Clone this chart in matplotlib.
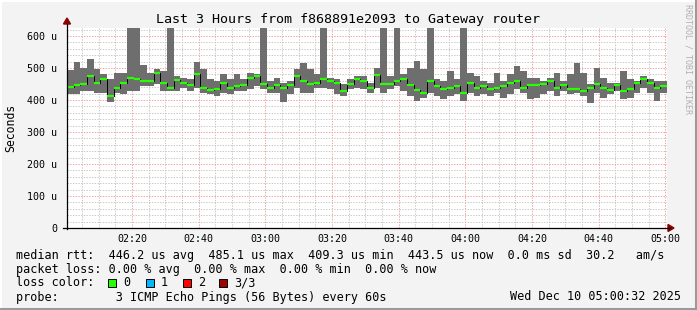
import numpy as np
import matplotlib
matplotlib.use("Agg")
import matplotlib.pyplot as plt
from matplotlib.lines import Line2D
from matplotlib.patches import Polygon, Rectangle


W, H = 697, 310

# time axis in minutes after midnight, graph ends Wed Dec 10 05:00:32
START_MIN = 120 + 32 / 60
STEP_MIN = 2

# rtt in microseconds, one value per 2 minutes (spikes above 625 are clipped)
rtt_min = [420, 418, 428, 428, 423, 423, 394, 423, 418, 428,
           428, 444, 444, 449, 428, 428, 428, 439, 428, 439,
           423, 418, 413, 423, 418, 428, 428, 433, 444, 433,
           423, 423, 394, 418, 439, 423, 423, 439, 439, 433,
           418, 413, 433, 439, 433, 423, 439, 423, 433, 444,
           428, 413, 397, 407, 423, 413, 402, 413, 418, 397,
           423, 413, 418, 413, 423, 407, 418, 433, 423, 402,
           407, 418, 428, 413, 428, 418, 423, 413, 392, 423,
           407, 418, 428, 402, 407, 423, 439, 423, 397, 423]
rtt_median = [440, 446, 449, 475, 452, 467, 413, 439, 454, 470,
              465, 459, 459, 485, 452, 439, 463, 452, 446, 480,
              439, 431, 435, 454, 439, 444, 446, 470, 475, 449,
              439, 446, 439, 446, 475, 459, 449, 454, 465, 459,
              454, 428, 449, 465, 459, 439, 477, 449, 449, 459,
              465, 446, 431, 423, 459, 444, 433, 439, 444, 423,
              454, 439, 444, 433, 439, 444, 452, 459, 439, 446,
              446, 449, 459, 439, 446, 433, 433, 428, 439, 449,
              439, 431, 446, 428, 433, 452, 465, 454, 439, 444]
rtt_max = [495, 519, 501, 527, 496, 480, 465, 485, 485, 700,
           700, 508, 485, 498, 491, 700, 475, 470, 465, 519,
           498, 465, 459, 480, 465, 480, 465, 485, 480, 700,
           459, 470, 454, 459, 496, 515, 496, 480, 700, 470,
           465, 449, 465, 475, 475, 454, 501, 700, 475, 700,
           480, 501, 522, 496, 700, 465, 459, 491, 465, 700,
           485, 475, 459, 454, 485, 459, 480, 506, 491, 470,
           470, 459, 470, 485, 459, 480, 517, 485, 449, 501,
           470, 454, 454, 491, 465, 459, 475, 465, 459, 459]

y_ticks = [0, 100, 200, 300, 400, 500, 600]
y_tick_labels = ["0", "100 u", "200 u", "300 u", "400 u", "500 u", "600 u"]
x_ticks = [140, 160, 180, 200, 220, 240, 260, 280, 300]
x_tick_labels = ["02:20", "02:40", "03:00", "03:20", "03:40",
                 "04:00", "04:20", "04:40", "05:00"]

loss_labels = ["0", "1", "2", "3/3"]
loss_colors = ["#26ff00", "#00b8ff", "#ff0000", "#a00000"]

title = "Last 3 Hours from f868891e2093 to Gateway router"
stats_rtt = ("median rtt:  446.2 us avg  485.1 us max  409.3 us min  "
             "443.5 us now  0.0 ms sd  30.2   am/s")
stats_loss = "packet loss: 0.00 % avg  0.00 % max  0.00 % min  0.00 % now"
probe_text = "probe:        3 ICMP Echo Pings (56 Bytes) every 60s"
stamp = "Wed Dec 10 05:00:32 2025"

MONO = "DejaVu Sans Mono"


def fx(x):
    return x / W


def fy(y):
    return 1 - y / H


fig = plt.figure(figsize=(W / 100, H / 100), dpi=100)
fig.patch.set_facecolor("#f3f3f3")

ax = fig.add_axes([fx(67), fy(228), 600 / W, 200 / H])
ax.set_facecolor("white")
ax.set_xlim(START_MIN, START_MIN + 180)
ax.set_ylim(0, 625)

# grid
ax.set_xticks(np.arange(125, 301, 5), minor=True)
ax.set_yticks(np.arange(20, 625, 20), minor=True)
ax.set_xticks(x_ticks)
ax.set_xticklabels(x_tick_labels)
ax.set_yticks(y_ticks)
ax.set_yticklabels(y_tick_labels)
ax.set_axisbelow(True)
ax.grid(which="minor", color="#c8c8c8", lw=0.7, linestyle=(0, (1.4, 1.4)))
ax.grid(which="major", color="#f4a0a0", lw=0.7, linestyle=(0, (1.4, 1.4)))

ax.tick_params(which="both", length=0)
ax.tick_params(axis="x", pad=4, labelsize=7.2)
ax.tick_params(axis="y", pad=7, labelsize=7.2)
for lab in ax.get_xticklabels() + ax.get_yticklabels():
    lab.set_family(MONO)
for s in ax.spines.values():
    s.set_visible(False)

# smoke + median
n = len(rtt_median)
t = START_MIN + STEP_MIN * np.arange(n + 1)
lo = np.append(rtt_min, rtt_min[-1])
hi = np.append(rtt_max, rtt_max[-1])
med = np.append(rtt_median, rtt_median[-1])
ax.fill_between(t, lo, hi, step="post", color="#6e6e6e", lw=0, zorder=2)
ax.step(t, med, where="post", color="black", lw=0.7, zorder=3)
ax.hlines(rtt_median, t[:-1], t[1:], color=loss_colors[0], lw=1.6, zorder=4)

# axes lines with arrows
axis_col = "#000000"
fig.add_artist(Line2D([fx(67), fx(67)], [fy(229), fy(24)], color=axis_col, lw=0.9))
fig.add_artist(Line2D([fx(63), fx(670)], [fy(228), fy(228)], color=axis_col, lw=0.9))
fig.add_artist(Polygon([[fx(67), fy(18)], [fx(63.5), fy(24)], [fx(70.5), fy(24)]],
                       closed=True, color="#8b0000"))
fig.add_artist(Polygon([[fx(674), fy(228)], [fx(668), fy(224.5)], [fx(668), fy(231.5)]],
                       closed=True, color="#8b0000"))

# title, labels, watermark
fig.text(fx(348.5), fy(19), title, family=MONO, fontsize=9.6,
         ha="center", va="center")
fig.text(fx(11), fy(128), "Seconds", family=MONO, fontsize=8.3,
         rotation=90, ha="center", va="center")
fig.text(fx(688), fy(4), "RRDTOOL / TOBI OETIKER", family=MONO, fontsize=6,
         rotation=270, ha="center", va="top", color="#b0b0b0")

# legend
fig.text(fx(16), fy(255), stats_rtt, family=MONO, fontsize=8.5, va="center")
fig.text(fx(16), fy(269), stats_loss, family=MONO, fontsize=8.5, va="center")
fig.text(fx(16), fy(283), "loss color:", family=MONO, fontsize=8.5, va="center")
sq_x = [108, 146, 183, 219]
for x0, lab, col in zip(sq_x, loss_labels, loss_colors):
    fig.add_artist(Rectangle((fx(x0), fy(287)), 8 / W, 8 / H,
                             facecolor=col, edgecolor="black", lw=0.7))
    fig.text(fx(x0 + 15), fy(283), lab, family=MONO, fontsize=8.5, va="center")
fig.text(fx(16), fy(297), probe_text, family=MONO, fontsize=8.5, va="center")
fig.text(fx(681), fy(297), stamp, family=MONO, fontsize=8.5,
         ha="right", va="center")

# 3d frame
fig.add_artist(Line2D([0, 1], [fy(0.5), fy(0.5)], color="#ffffff", lw=1.5))
fig.add_artist(Line2D([fx(0.5), fx(0.5)], [0, 1], color="#ffffff", lw=1.5))
fig.add_artist(Line2D([0, 1], [fy(308.5), fy(308.5)], color="#9a9a9a", lw=2.2))
fig.add_artist(Line2D([fx(695.5), fx(695.5)], [0, 1], color="#9a9a9a", lw=2.2))

fig.savefig("out.png", dpi=100, facecolor=fig.get_facecolor())
